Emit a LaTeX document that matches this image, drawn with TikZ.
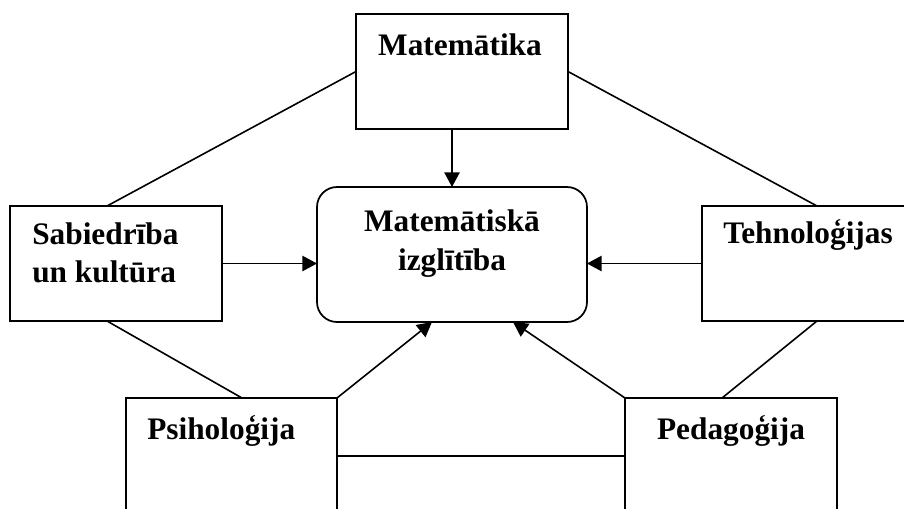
\documentclass[tikz,border=0pt]{standalone}
\usepackage{fontspec}
\setmainfont{Liberation Serif}
\usetikzlibrary{calc,arrows.meta}
\begin{document}
\begin{tikzpicture}[x=0.75pt,y=-0.75pt,
  box/.style={draw,line width=1.3pt,inner sep=0pt,outer sep=0pt,rectangle},
  lbl/.style={font=\fontsize{23.5pt}{28pt}\selectfont\bfseries,inner sep=0pt},
  conn/.style={line width=1.2pt},
  arr/.style={line width=1.2pt,-{Triangle[length=11pt,width=11.5pt]}}]
\useasboundingbox (0,0) rectangle (904,508);
\clip (0,0) rectangle (904,508);
% boxes
\node[box,minimum width=159pt,minimum height=86.25pt] (mat) at (462,71.5) {};
\node[box,minimum width=159pt,minimum height=86.25pt] (sab) at (116,263.5) {};
\node[box,rounded corners=15pt,minimum width=202.5pt,minimum height=101.25pt] (cen) at (452,254.5) {};
\node[box,minimum width=156pt,minimum height=86.25pt] (tech) at (806,263.5) {};
\node[box,minimum width=158.25pt,minimum height=91.5pt] (psi) at (231.5,459) {};
\node[box,minimum width=159pt,minimum height=91.5pt] (ped) at (731,459) {};
% texts
\node[lbl,anchor=base] (tmat) at (460,55) {Matemātika};
\node[lbl,anchor=base west,align=left] (tsab) at (32,282) {Sabiedrība\\un kultūra};
\node[lbl,anchor=base,align=center] (tcen) at (452,270) {Matemātiskā\\[1pt]izglītība};
\node[lbl,anchor=base west] (ttech) at (723,243) {Tehnoloģijas};
\node[lbl,anchor=base west] (tpsi) at (147,439) {Psiholoģija};
\node[lbl,anchor=base] (tped) at (731,439) {Pedagoģija};
% connectors
\draw[conn] (mat.west) -- ($(sab.north)+(-9,0)$);
\draw[conn] (mat.east) -- ($(tech.north)+(11,0)$);
\draw[arr] (cen.north |- mat.south) -- (cen.north);
\draw[arr] (sab.east) -- (cen.west |- sab.east);
\draw[arr] (tech.west) -- (cen.east |- tech.west);
\draw[conn] ($(sab.south)+(-9,0)$) -- ($(psi.north)+(10.5,0)$);
\draw[arr] (psi.north east) -- ($(cen.south)+(-20,0)$);
\draw[arr] (ped.north west) -- ($(cen.south)+(61,0)$);
\draw[conn] ($(tech.south)+(11,0)$) -- ($(ped.north)+(-9,0)$);
\draw[conn] ($(psi.east)+(0,-3)$) -- ($(ped.west)+(0,-3)$);
\end{tikzpicture}
\end{document}
